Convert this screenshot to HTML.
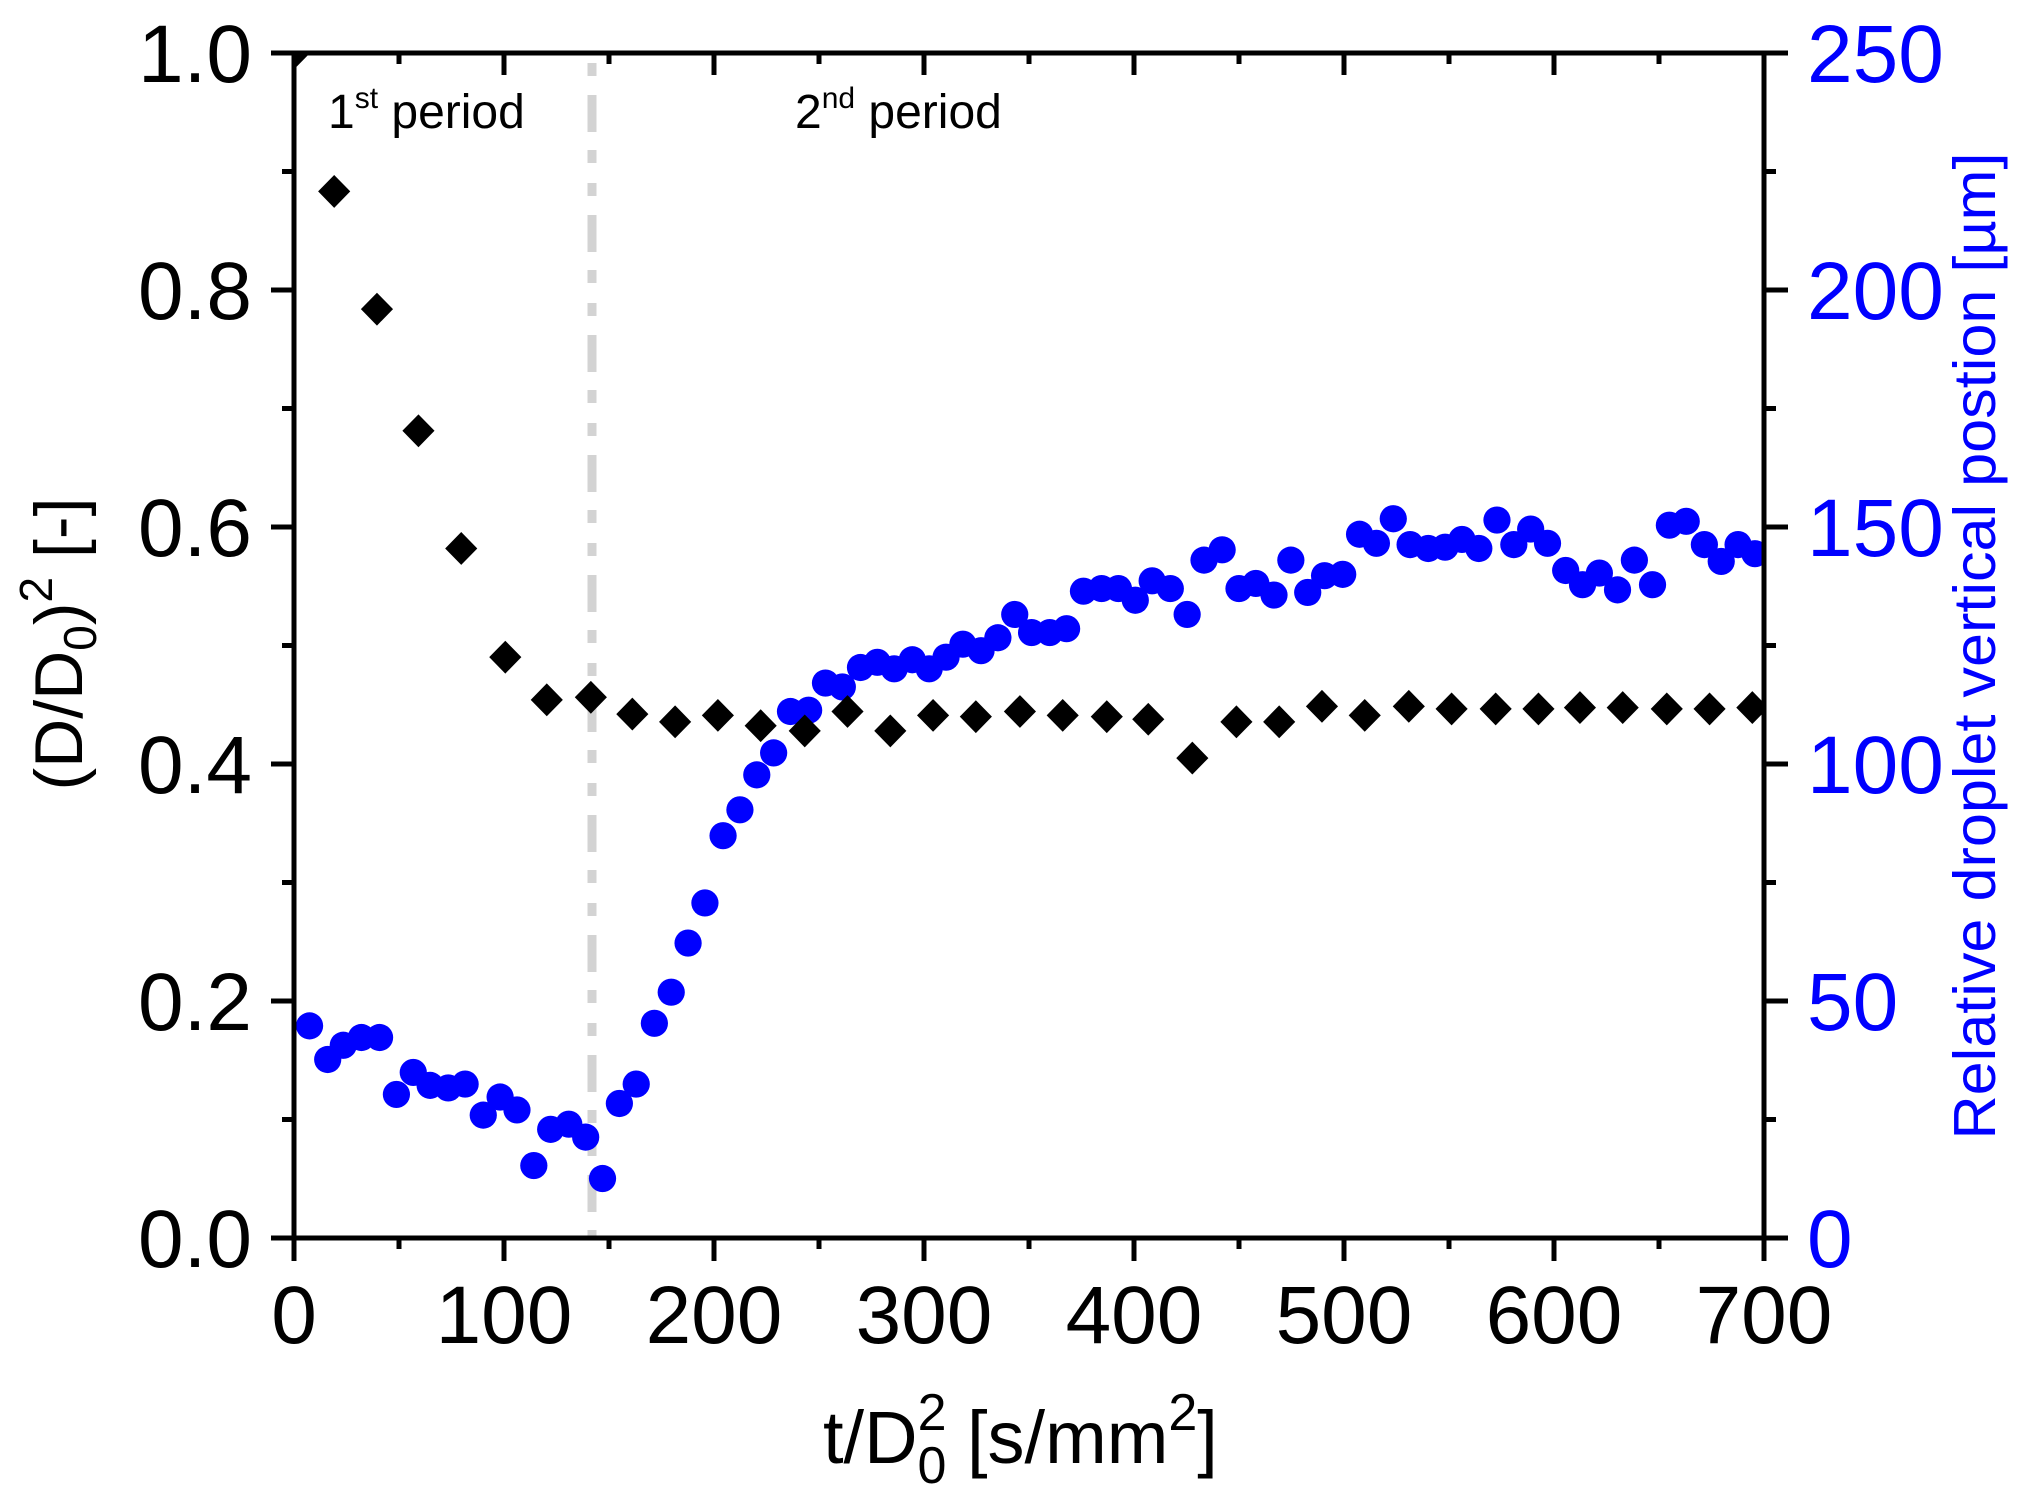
<!DOCTYPE html>
<html><head><meta charset="utf-8"><style>
html,body{margin:0;padding:0;background:#fff;}
svg{display:block;}
text{font-family:"Liberation Sans",Arial,sans-serif;}
</style></head><body>
<svg width="2030" height="1499" viewBox="0 0 2030 1499" xmlns="http://www.w3.org/2000/svg">
<defs>
<clipPath id="pc"><rect x="294" y="53" width="1470" height="1185"/></clipPath>
<path id="dm" d="M0 -12.7 L12.4 0 L0 12.7 L-12.4 0 Z" fill="#000"/>
</defs>
<rect width="2030" height="1499" fill="#fff"/>
<g clip-path="url(#pc)">
<line x1="592" y1="-25" x2="592" y2="1240" stroke="#d3d3d3" stroke-width="9" stroke-dasharray="37 18 13 20 13 19"/>
</g>
<g clip-path="url(#pc)">
<g transform="translate(294,53) scale(1.2963,1.2937) translate(-228,-40)">
<g fill="#0000ff">
<circle cx="240" cy="792" r="10.5"/><circle cx="254" cy="818" r="10.5"/><circle cx="266" cy="807" r="10.5"/><circle cx="280" cy="801" r="10.5"/><circle cx="294" cy="801" r="10.5"/><circle cx="307" cy="845" r="10.5"/><circle cx="320" cy="828" r="10.5"/><circle cx="333" cy="838" r="10.5"/><circle cx="347" cy="840" r="10.5"/><circle cx="360" cy="837" r="10.5"/><circle cx="374" cy="861" r="10.5"/><circle cx="387" cy="847" r="10.5"/><circle cx="400" cy="857" r="10.5"/><circle cx="413" cy="900" r="10.5"/><circle cx="426" cy="872" r="10.5"/><circle cx="440" cy="868" r="10.5"/><circle cx="453" cy="878" r="10.5"/><circle cx="466" cy="910" r="10.5"/><circle cx="479" cy="852" r="10.5"/><circle cx="492" cy="837" r="10.5"/><circle cx="506" cy="790" r="10.5"/><circle cx="519" cy="766" r="10.5"/><circle cx="532" cy="728" r="10.5"/><circle cx="545" cy="697" r="10.5"/><circle cx="559" cy="645" r="10.5"/><circle cx="572" cy="625" r="10.5"/><circle cx="585" cy="598" r="10.5"/><circle cx="598" cy="581" r="10.5"/><circle cx="611" cy="549" r="10.5"/><circle cx="625" cy="548" r="10.5"/><circle cx="638" cy="527" r="10.5"/><circle cx="651" cy="530" r="10.5"/><circle cx="665" cy="515" r="10.5"/><circle cx="678" cy="511" r="10.5"/><circle cx="691" cy="516" r="10.5"/><circle cx="705" cy="509" r="10.5"/><circle cx="718" cy="516" r="10.5"/><circle cx="731" cy="507" r="10.5"/><circle cx="744" cy="497" r="10.5"/><circle cx="758" cy="502" r="10.5"/><circle cx="771" cy="492" r="10.5"/><circle cx="784" cy="474" r="10.5"/><circle cx="797" cy="488" r="10.5"/><circle cx="811" cy="488" r="10.5"/><circle cx="824" cy="485" r="10.5"/><circle cx="837" cy="456" r="10.5"/><circle cx="851" cy="454" r="10.5"/><circle cx="864" cy="454" r="10.5"/><circle cx="877" cy="463" r="10.5"/><circle cx="890" cy="448" r="10.5"/><circle cx="904" cy="454" r="10.5"/><circle cx="917" cy="474" r="10.5"/><circle cx="930" cy="432" r="10.5"/><circle cx="944" cy="424" r="10.5"/><circle cx="957" cy="454" r="10.5"/><circle cx="970" cy="450" r="10.5"/><circle cx="984" cy="459" r="10.5"/><circle cx="997" cy="432" r="10.5"/><circle cx="1010" cy="457" r="10.5"/><circle cx="1023" cy="444" r="10.5"/><circle cx="1037" cy="443" r="10.5"/><circle cx="1050" cy="412" r="10.5"/><circle cx="1063" cy="419" r="10.5"/><circle cx="1076" cy="400" r="10.5"/><circle cx="1089" cy="420" r="10.5"/><circle cx="1103" cy="423" r="10.5"/><circle cx="1116" cy="422" r="10.5"/><circle cx="1129" cy="416" r="10.5"/><circle cx="1142" cy="423" r="10.5"/><circle cx="1156" cy="401" r="10.5"/><circle cx="1169" cy="420" r="10.5"/><circle cx="1182" cy="408" r="10.5"/><circle cx="1195" cy="419" r="10.5"/><circle cx="1209" cy="440" r="10.5"/><circle cx="1222" cy="451" r="10.5"/><circle cx="1235" cy="442" r="10.5"/><circle cx="1249" cy="455" r="10.5"/><circle cx="1262" cy="432" r="10.5"/><circle cx="1276" cy="451" r="10.5"/><circle cx="1289" cy="405" r="10.5"/><circle cx="1302" cy="402" r="10.5"/><circle cx="1316" cy="420" r="10.5"/><circle cx="1329" cy="433" r="10.5"/><circle cx="1342" cy="420" r="10.5"/><circle cx="1355" cy="427" r="10.5"/>
</g>
<use href="#dm" x="228" y="40"/>
<use href="#dm" x="259" y="147"/><use href="#dm" x="292" y="238"/><use href="#dm" x="324" y="332"/><use href="#dm" x="357" y="423"/><use href="#dm" x="391" y="507"/><use href="#dm" x="423" y="540"/><use href="#dm" x="457" y="538"/><use href="#dm" x="489" y="551"/><use href="#dm" x="522" y="557"/><use href="#dm" x="555" y="552"/><use href="#dm" x="588" y="560"/><use href="#dm" x="622" y="564"/><use href="#dm" x="655" y="549"/><use href="#dm" x="688" y="564"/><use href="#dm" x="721" y="552"/><use href="#dm" x="754" y="553"/><use href="#dm" x="788" y="549"/><use href="#dm" x="821" y="552"/><use href="#dm" x="855" y="553"/><use href="#dm" x="887" y="555"/><use href="#dm" x="921" y="585"/><use href="#dm" x="955" y="557"/><use href="#dm" x="988" y="557"/><use href="#dm" x="1021" y="545"/><use href="#dm" x="1054" y="552"/><use href="#dm" x="1088" y="545"/><use href="#dm" x="1121" y="547"/><use href="#dm" x="1155" y="547"/><use href="#dm" x="1188" y="547"/><use href="#dm" x="1220" y="546"/><use href="#dm" x="1253" y="546"/><use href="#dm" x="1287" y="547"/><use href="#dm" x="1320" y="547"/><use href="#dm" x="1353" y="546"/>
</g>
</g>
<g stroke="#000" stroke-width="5" fill="none">
<line x1="271" y1="53" x2="1764" y2="53"/>
<line x1="271" y1="1238" x2="1788" y2="1238"/>
<line x1="294" y1="51" x2="294" y2="1261"/>
<line x1="1764" y1="51" x2="1764" y2="1261"/>
<path d="M294 1238v23 M504 1238v23 M714 1238v23 M924 1238v23 M1134 1238v23 M1344 1238v23 M1554 1238v23 M1764 1238v23
M399 1238v11 M609 1238v11 M819 1238v11 M1029 1238v11 M1239 1238v11 M1449 1238v11 M1659 1238v11"/>
<path d="M504 53v22 M714 53v22 M924 53v22 M1134 53v22 M1344 53v22 M1554 53v22
M399 53v11 M609 53v11 M819 53v11 M1029 53v11 M1239 53v11 M1449 53v11 M1659 53v11"/>
<path d="M294 53h-23 M294 290h-23 M294 527h-23 M294 764h-23 M294 1001h-23 M294 1238h-23
M294 171.5h-12 M294 408.5h-12 M294 645.5h-12 M294 882.5h-12 M294 1119.5h-12"/>
<path d="M1764 53h24 M1764 290h24 M1764 527h24 M1764 764h24 M1764 1001h24 M1764 1238h24
M1764 171.5h12 M1764 408.5h12 M1764 645.5h12 M1764 882.5h12 M1764 1119.5h12"/>
</g>
<g font-size="82" fill="#000">
<g text-anchor="end">
<text x="252" y="82">1.0</text><text x="252" y="319">0.8</text><text x="252" y="556">0.6</text><text x="252" y="793">0.4</text><text x="252" y="1030">0.2</text><text x="252" y="1267">0.0</text>
</g>
<g text-anchor="middle">
<text x="294" y="1343">0</text><text x="504" y="1343">100</text><text x="714" y="1343">200</text><text x="924" y="1343">300</text><text x="1134" y="1343">400</text><text x="1344" y="1343">500</text><text x="1554" y="1343">600</text><text x="1764" y="1343">700</text>
</g>
<g fill="#0000ff">
<text x="1807" y="82">250</text><text x="1807" y="319">200</text><text x="1807" y="556">150</text><text x="1807" y="793">100</text><text x="1807" y="1030">50</text><text x="1807" y="1267">0</text>
</g>
</g>
<text x="328" y="128" font-size="48">1<tspan font-size="30" dy="-20">st</tspan><tspan dy="20"> period</tspan></text>
<text x="795" y="128" font-size="48">2<tspan font-size="30" dy="-20">nd</tspan><tspan dy="20"> period</tspan></text>
<text x="823" y="1463" font-size="74">t/D<tspan font-size="52" dy="-33">2</tspan><tspan font-size="52" dx="-29" dy="53">0</tspan><tspan dy="-20"> [s/mm</tspan><tspan font-size="52" dy="-33">2</tspan><tspan dy="33">]</tspan></text>
<text transform="translate(82,644) rotate(-90)" text-anchor="middle" font-size="68">(D/D<tspan font-size="46" dy="14">0</tspan><tspan dy="-14">)</tspan><tspan font-size="46" dy="-30">2</tspan><tspan dy="30"> [-]</tspan></text>
<text transform="translate(1995,646) rotate(-90)" text-anchor="middle" font-size="59" fill="#0000ff" textLength="987" lengthAdjust="spacingAndGlyphs">Relative droplet vertical postion [µm]</text>
</svg>
</body></html>
